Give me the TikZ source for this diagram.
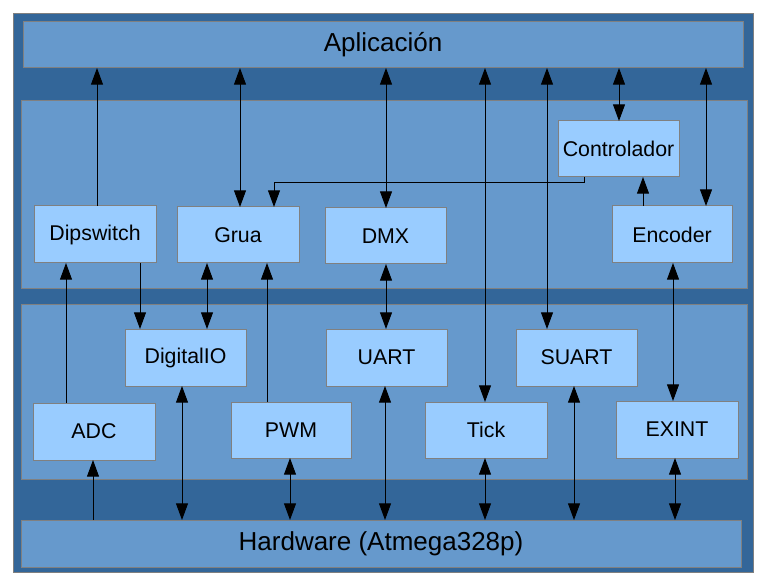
\documentclass[tikz,border=0pt]{standalone}
\usepackage{fontspec}
\setmainfont{Liberation Sans}
\usetikzlibrary{arrows.meta}
\definecolor{dark}{RGB}{51,102,153}
\definecolor{mid}{RGB}{102,153,204}
\definecolor{light}{RGB}{153,204,255}
\definecolor{edge}{RGB}{128,128,128}
\newcommand\mybox[7][]{%
  \node[#1, minimum width={(#4-#2)*0.75pt}, minimum height={(#5-#3)*0.75pt}] (#6) at ({(#2+#4)/2},{(#3+#5)/2}) {#7};}
\begin{document}
\begin{tikzpicture}[x=0.75pt,y=-0.75pt,
  frame/.style={draw=edge, line width=0.75pt, inner sep=0pt, outer sep=0pt},
  outerbox/.style={frame, fill=dark},
  panel/.style={frame, fill=mid},
  bigpanel/.style={frame, fill=mid, font=\fontsize{19.5}{22}\selectfont},
  box/.style={frame, fill=light, font=\fontsize{16}{18}\selectfont},
  con/.style={line width=0.75pt, black},
  tip/.style={con, -{Triangle[length=12.5pt,width=9pt]}},
  dbl/.style={con, {Triangle[length=12.5pt,width=9pt]}-{Triangle[length=12.5pt,width=9pt]}}]
\useasboundingbox (0,0) rectangle (762,580);
\mybox[outerbox]{13}{14}{753}{572}{outer}{}
\mybox[bigpanel]{23}{22}{743}{68}{aplic}{Aplicación}
\mybox[panel]{21}{101}{747}{289}{midpanel}{}
\mybox[panel]{21}{305}{747}{479}{lowpanel}{}
\mybox[bigpanel]{21}{520}{741}{567}{hw}{Hardware (Atmega328p)}
\mybox[box]{558}{121}{679}{177}{ctrl}{Controlador}
\mybox[box]{612}{206}{732}{263}{enc}{Encoder}
\mybox[box]{34}{206}{156}{263}{dip}{Dipswitch}
\mybox[box]{177}{207}{299}{263}{grua}{Grua}
\mybox[box]{325}{208}{446}{264}{dmx}{DMX}
\mybox[box]{125}{329}{246}{386}{dio}{DigitalIO}
\mybox[box]{326}{329}{447}{386}{uart}{UART}
\mybox[box]{516}{329}{637}{386}{suart}{SUART}
\mybox[box]{33}{403}{155}{460}{adc}{ADC}
\mybox[box]{231}{402}{351}{458}{pwm}{PWM}
\mybox[box]{425}{402}{547}{458}{tick}{Tick}
\mybox[box]{616}{401}{738}{458}{exint}{EXINT}
% vertical guides
\foreach \g in {66,93,97,140,182,207,240,267,274,290,385,386,485,547,574,584,619,643,673,675,706}
  \coordinate (x\g) at (\g,0);
\coordinate (bend) at (584,183);
% to Aplicacion
\draw[tip] (dip.north -| x97) -- (aplic.south -| x97);
\draw[dbl] (aplic.south -| x240) -- (grua.north -| x240);
\draw[dbl] (aplic.south -| x386) -- (dmx.north -| x386);
\draw[dbl] (aplic.south -| x485) -- (tick.north -| x485);
\draw[dbl] (aplic.south -| x547) -- (suart.north -| x547);
\draw[dbl] (aplic.south -| x619) -- (ctrl.north -| x619);
\draw[dbl] (aplic.south -| x706) -- (enc.north -| x706);
% middle
\draw[tip] (ctrl.south -| x584) -- (bend) -- (bend -| x274) -- (grua.north -| x274);
\draw[tip] (enc.north -| x643) -- (ctrl.south -| x643);
\draw[dbl] (enc.south -| x673) -- (exint.north -| x673);
\draw[tip] (dip.south -| x140) -- (dio.north -| x140);
\draw[dbl] (grua.south -| x207) -- (dio.north -| x207);
\draw[tip] (pwm.north -| x267) -- (grua.south -| x267);
\draw[dbl] (dmx.south -| x386) -- (uart.north -| x386);
\draw[tip] (adc.north -| x66) -- (dip.south -| x66);
% to Hardware
\draw[tip] (hw.north -| x93) -- (adc.south -| x93);
\draw[dbl] (dio.south -| x182) -- (hw.north -| x182);
\draw[dbl] (pwm.south -| x290) -- (hw.north -| x290);
\draw[dbl] (uart.south -| x385) -- (hw.north -| x385);
\draw[dbl] (tick.south -| x485) -- (hw.north -| x485);
\draw[dbl] (suart.south -| x574) -- (hw.north -| x574);
\draw[dbl] (exint.south -| x675) -- (hw.north -| x675);
\end{tikzpicture}
\end{document}
